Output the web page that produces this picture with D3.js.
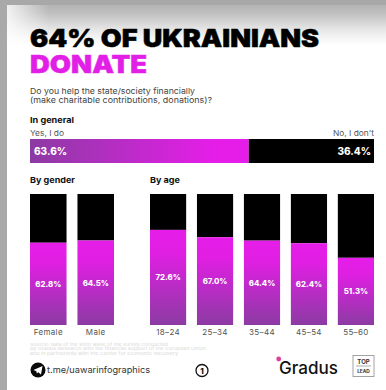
<!DOCTYPE html>
<html>
<head>
<meta charset="utf-8">
<script src="https://cdn.jsdelivr.net/npm/d3@7"></script>
<style>
html,body{margin:0;padding:0;background:#fff;overflow:hidden}
svg{display:block}
text{font-family:Inter,"Open Sans",sans-serif}
</style>
</head>
<body>
<svg id="chart" width="386" height="390"></svg>
<script>
// Survey shares, percent answering "Yes, I do"
const generalLabels = ["Yes, I do", "No, I don't"];
const generalValues = [63.6, 36.4];
const genderCategories = ["Female", "Male"];
const genderValues = [62.8, 64.5];
const ageCategories = ["18–24", "25–34", "35–44", "45–54", "55–60"];
const ageValues = [72.6, 67.0, 64.4, 62.4, 51.3];
const titleLines = ["64% OF UKRAINIANS", "DONATE"];
const questionLines = ["Do you help the state/society financially", "(make charitable contributions, donations)?"];
const sourceLines = [
  "Source: data of the sixth wave of the survey conducted",
  "by Gradus Research with the financial support of the European Union",
  "and in partnership with the Center for Economic Recovery"
];

const svg = d3.select("#chart");
const defs = svg.append("defs");
const BLACK = "#000", MAGENTA = "#e61de9", PURPLE = "#8c3ba3";

function gradient(id, x2, y2, stops) {
  const g = defs.append("linearGradient").attr("id", id)
    .attr("x1", 0).attr("y1", 0).attr("x2", x2).attr("y2", y2);
  stops.forEach(([o, c, a]) => g.append("stop").attr("offset", o).attr("stop-color", c)
    .attr("stop-opacity", a === undefined ? 1 : a));
}
gradient("barH", 1, 0, [[0, PURPLE], [0.85, MAGENTA], [1, MAGENTA]]);
gradient("barV", 0, 1, [[0, MAGENTA], [0.25, "#df1fe2"], [1, PURPLE]]);
gradient("shade", 0, 1, [[0, "#b2b2b2"], [0.2, "#bebebe"], [0.38, "#cfcfcf"], [0.56, "#e2e2e2"], [0.76, "#f2f2f2"], [1, "#fff"]]);
gradient("fadeX", 1, 0, [[0, "#fff", 0.8], [1, "#fff", 0]]);

// Page backdrop: grey edge strips with a soft shadow falling from the top
svg.append("rect").attr("width", 386).attr("height", 390).attr("fill", "#fff");
svg.append("rect").attr("x", 7).attr("y", 4).attr("width", 379).attr("height", 42).attr("fill", "url(#shade)");
svg.append("rect").attr("x", 7).attr("y", 4).attr("width", 42).attr("height", 42).attr("fill", "url(#fadeX)");
svg.append("rect").attr("width", 386).attr("height", 5).attr("fill", "#a8a8a8");
svg.append("rect").attr("width", 7).attr("height", 390).attr("fill", "#a9a9a9");

// Text helper; a given width stretches the run to the measured line length
function label(x, y, str, size, weight, fill, anchor, width) {
  const t = svg.append("text").attr("x", x).attr("y", y).text(str)
    .attr("font-size", size).attr("font-weight", weight)
    .attr("fill", fill).attr("text-anchor", anchor || "start");
  if (width) t.attr("textLength", width).attr("lengthAdjust", "spacingAndGlyphs");
  return t;
}

// Headline and question
label(30, 47, titleLines[0], 24, 900, "#000", "start", 289).attr("stroke", "#000").attr("stroke-width", 0.5);
label(30, 73, titleLines[1], 24, 900, "#e21fe6", "start", 117).attr("stroke", "#e21fe6").attr("stroke-width", 0.5);
const questionWidths = [165, 182];
questionLines.forEach((s, i) => label(30, 94 + i * 8.6, s, 8.2, 400, "#444", "start", questionWidths[i]));

// Overall split
label(30, 122.5, "In general", 8.2, 700, "#111", "start", 44);
label(30, 136, generalLabels[0], 8, 400, "#555", "start", 34);
label(374, 136, generalLabels[1], 8, 400, "#555", "end", 41);

const xGeneral = d3.scaleLinear().domain([0, 100]).range([30, 374]);
svg.append("rect").attr("x", xGeneral(0)).attr("y", 139)
  .attr("width", xGeneral(generalValues[0]) - xGeneral(0)).attr("height", 24).attr("fill", "url(#barH)");
svg.append("rect").attr("x", xGeneral(generalValues[0])).attr("y", 139)
  .attr("width", xGeneral(100) - xGeneral(generalValues[0])).attr("height", 24).attr("fill", BLACK);
label(34, 154.5, generalValues[0].toFixed(1) + "%", 10, 800, "#fff");
label(371, 154.5, generalValues[1].toFixed(1) + "%", 10, 800, "#fff", "end");

// Stacked columns for one breakdown, with category labels from a bottom axis
const y = d3.scaleLinear().domain([0, 100]).range([325, 194]);
function columns(title, titleWidth, cats, vals, x0, x1) {
  const x = d3.scaleBand().domain(cats).range([x0, x1]).paddingInner(0.23);
  label(x0, 183, title, 8.2, 700, "#111", "start", titleWidth);
  const g = svg.append("g");
  const rows = cats.map((c, i) => ({ c, v: vals[i] }));
  g.selectAll(".rest").data(rows).join("rect").attr("class", "rest")
    .attr("x", d => x(d.c)).attr("width", x.bandwidth())
    .attr("y", y(100)).attr("height", d => y(d.v) - y(100)).attr("fill", BLACK);
  g.selectAll(".yes").data(rows).join("rect").attr("class", "yes")
    .attr("x", d => x(d.c)).attr("width", x.bandwidth())
    .attr("y", d => y(d.v)).attr("height", d => y(0) - y(d.v)).attr("fill", "url(#barV)");
  g.selectAll(".val").data(rows).join("text").attr("class", "val")
    .attr("x", d => x(d.c) + x.bandwidth() / 2).attr("y", d => (y(d.v) + y(0)) / 2 + 3)
    .attr("text-anchor", "middle").attr("font-size", 7.8).attr("font-weight", 800).attr("fill", "#fff")
    .text(d => d.v.toFixed(1) + "%");
  const axis = svg.append("g").attr("transform", "translate(0,325)")
    .call(d3.axisBottom(x).tickSize(0).tickPadding(4));
  axis.select(".domain").remove();
  axis.selectAll("text").attr("font-size", 8).attr("fill", "#555")
    .style("letter-spacing", "0.35px")
    .style("font-family", "Inter,'Open Sans',sans-serif");
}
columns("By gender", 45, genderCategories, genderValues, 30, 114);
columns("By age", 30, ageCategories, ageValues, 150, 374);

// Source note
const sourceWidths = [138, 176, 148];
sourceLines.forEach((s, i) => label(30, 345.6 + i * 4.6, s, 4.1, 400, "#d8d8d8", "start", sourceWidths[i]));

// Footer: channel link, page number and partner marks
svg.append("circle").attr("cx", 38).attr("cy", 370).attr("r", 7.5).attr("fill", "#0a0a0a");
svg.append("path").attr("d", "M33.5 370 L42.5 366 L41 374.5 L38.2 372.2 L36.8 373.6 L36.4 371.3 Z").attr("fill", "#fff");
label(47, 373, "t.me/uawarinfographics", 9, 400, "#333", "start", 103);

svg.append("circle").attr("cx", 202).attr("cy", 370.5).attr("r", 6).attr("fill", "none").attr("stroke", "#111").attr("stroke-width", 1.3);
label(202, 373.5, "1", 8, 800, "#111", "middle");

svg.append("circle").attr("cx", 278.7).attr("cy", 359).attr("r", 2.4).attr("fill", "#e0409a");
label(279, 374, "Gradus", 17, 500, "#111", "start", 59);

svg.append("rect").attr("x", 353).attr("y", 355.5).attr("width", 21).attr("height", 21).attr("fill", "none").attr("stroke", "#999").attr("stroke-width", 0.9);
label(363.5, 363.5, "TOP", 6, 700, "#333", "middle");
svg.append("line").attr("x1", 356).attr("x2", 371).attr("y1", 366).attr("y2", 366).attr("stroke", "#777").attr("stroke-width", 0.6);
label(363.5, 373, "LEAD", 4.8, 700, "#333", "middle");
</script>
</body>
</html>
